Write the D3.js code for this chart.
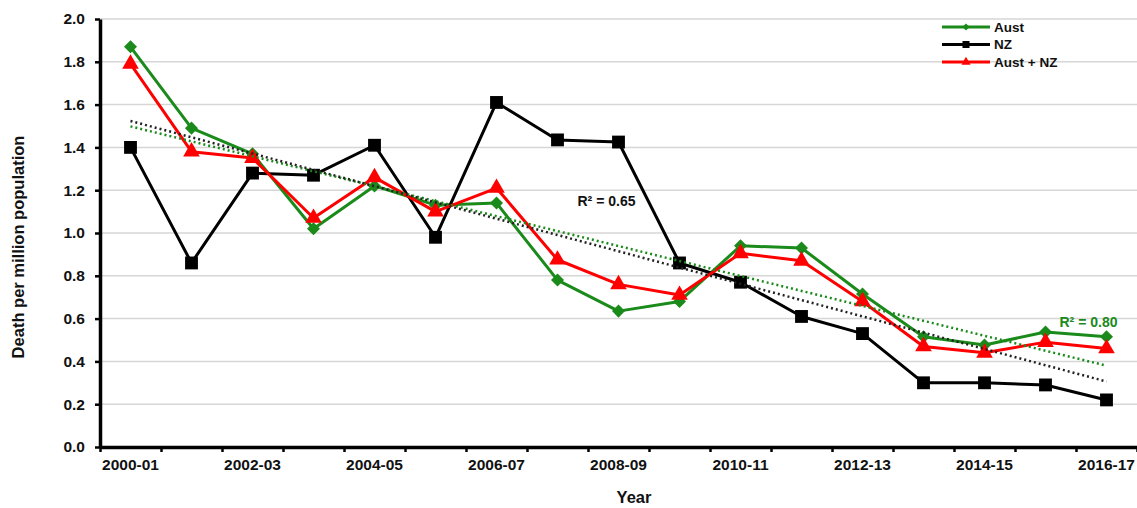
<!DOCTYPE html>
<html>
<head>
<meta charset="utf-8">
<script src="https://cdn.jsdelivr.net/npm/d3@7"></script>
<style>
  html, body { margin: 0; padding: 0; background: #fff; }
  svg { display: block; font-family: "Liberation Sans", Arial, sans-serif; }
  .tick text { font-weight: bold; font-size: 15.5px; fill: #111; }
</style>
</head>
<body>
<svg id="chart" width="1137" height="508"></svg>
<script>
/* ── Data ─────────────────────────────────────────────────────── */
const years = ["2000-01","2001-02","2002-03","2003-04","2004-05","2005-06","2006-07","2007-08","2008-09",
               "2009-10","2010-11","2011-12","2012-13","2013-14","2014-15","2015-16","2016-17"];
const aust   = [1.87,1.49,1.37,1.02,1.22,1.13,1.14,0.78,0.635,0.68,0.94,0.93,0.715,0.515,0.477,0.537,0.515];
const nz     = [1.40,0.86,1.28,1.27,1.41,0.98,1.61,1.435,1.425,0.86,0.77,0.61,0.53,0.30,0.30,0.29,0.22];
const austNz = [1.79,1.38,1.35,1.07,1.26,1.10,1.21,0.875,0.76,0.71,0.905,0.87,0.68,0.47,0.44,0.49,0.46];
const yTicks = [0,0.2,0.4,0.6,0.8,1.0,1.2,1.4,1.6,1.8,2.0];
const r2Labels = [
  { text: "R² = 0.65", color: "#111", yr: "2008-09", val: 1.15, dx: -12 },
  { text: "R² = 0.80", color: "#1a8a1a", yr: "2016-17", val: 0.585, dx: -18 }
];

/* ── Setup ────────────────────────────────────────────────────── */
const svg = d3.select("#chart");
const L = 100, R = 1137, T = 19, B = 447;

const x = d3.scaleBand().domain(years).range([L, R]).padding(0);
const cx = d => x(d) + x.bandwidth() / 2;
const y = d3.scaleLinear().domain([0, 2]).range([B, T]);

// gridlines
svg.append("g").selectAll("line").data(yTicks.filter(t => t > 0)).join("line")
  .attr("x1", L).attr("x2", R)
  .attr("y1", d => y(d)).attr("y2", d => y(d))
  .attr("stroke", "#d6d6d6").attr("stroke-width", 1.5);

// x axis: tick marks on category boundaries, labels every other year
const xb = d3.scaleLinear().domain([0, years.length]).range([L, R]);
svg.append("g").attr("transform", `translate(0,${B})`)
  .call(d3.axisBottom(xb).tickValues(d3.range(years.length + 1)).tickFormat("").tickSize(5).tickSizeOuter(0))
  .call(g => g.selectAll(".tick line").attr("stroke", "#000").attr("stroke-width", 2.5))
  .call(g => g.select(".domain").attr("stroke", "#000").attr("stroke-width", 3.5));

svg.append("g").attr("transform", `translate(0,${B})`)
  .call(d3.axisBottom(x).tickSize(0).tickFormat((d, i) => i % 2 === 0 ? d : ""))
  .call(g => g.select(".domain").remove())
  .call(g => g.selectAll(".tick text").attr("dy", "1.3em"));

// y axis
svg.append("g").attr("transform", `translate(${L},0)`)
  .call(d3.axisLeft(y).tickValues(yTicks).tickFormat(d3.format(".1f")).tickSize(5).tickSizeOuter(0).tickPadding(10))
  .call(g => g.selectAll(".tick line").attr("stroke", "#000").attr("stroke-width", 2.5))
  .call(g => g.select(".domain").attr("stroke", "#000").attr("stroke-width", 3.5));

// axis titles
svg.append("text").attr("x", 634).attr("y", 503).attr("text-anchor", "middle")
  .attr("font-weight", "bold").attr("font-size", 16.5).attr("fill", "#111").text("Year");
svg.append("text").attr("transform", "translate(24,247) rotate(-90)").attr("text-anchor", "middle")
  .attr("font-weight", "bold").attr("font-size", 16.5).attr("fill", "#111").text("Death per million population");

/* ── Series ───────────────────────────────────────────────────── */
const diamond = { draw(ctx, size) { const r = Math.sqrt(size / 2); ctx.moveTo(0, -r); ctx.lineTo(r, 0); ctx.lineTo(0, r); ctx.lineTo(-r, 0); ctx.closePath(); } };
const series = [
  { name: "Aust", values: aust, color: "#1a8a1a", symbol: diamond, size: 85 },
  { name: "NZ", values: nz, color: "#000", symbol: d3.symbolSquare, size: 165 },
  { name: "Aust + NZ", values: austNz, color: "#ff0000", symbol: d3.symbolTriangle, size: 120 }
];

const line = d3.line().x((d, i) => cx(years[i])).y(d => y(d));

series.forEach(s => {
  const g = svg.append("g");
  g.append("path").datum(s.values).attr("d", line)
    .attr("fill", "none").attr("stroke", s.color).attr("stroke-width", 3).attr("stroke-linejoin", "round");
  g.selectAll("path.m").data(s.values).join("path").attr("class", "m")
    .attr("transform", (d, i) => `translate(${cx(years[i])},${y(d)})`)
    .attr("d", d3.symbol(s.symbol, s.size)).attr("fill", s.color);
});

/* ── Linear trendlines (least squares) ────────────────────────── */
function trend(vals) {
  const n = vals.length, mx = (n - 1) / 2, my = d3.mean(vals);
  let sxy = 0, sxx = 0;
  vals.forEach((v, i) => { sxy += (i - mx) * (v - my); sxx += (i - mx) * (i - mx); });
  const b = sxy / sxx, a = my - b * mx;
  return [a, a + b * (n - 1)];
}
[{ vals: aust, color: "#1a8a1a" }, { vals: nz, color: "#222" }].forEach(t => {
  const [y0, y1] = trend(t.vals);
  svg.append("line")
    .attr("x1", cx(years[0])).attr("y1", y(y0))
    .attr("x2", cx(years[years.length - 1])).attr("y2", y(y1))
    .attr("stroke", t.color).attr("stroke-width", 2.5).attr("stroke-dasharray", "2,3");
});

// R² labels
r2Labels.forEach(r => {
  svg.append("text").attr("x", cx(r.yr) + r.dx).attr("y", y(r.val)).attr("dy", "0.35em")
    .attr("text-anchor", "middle").attr("font-weight", "bold").attr("font-size", 14)
    .attr("fill", r.color).text(r.text);
});

/* ── Legend ───────────────────────────────────────────────────── */
const leg = svg.append("g");
series.forEach((s, i) => {
  const ly = 27 + i * 17.5;
  leg.append("line").attr("x1", 942).attr("x2", 990).attr("y1", ly).attr("y2", ly)
    .attr("stroke", s.color).attr("stroke-width", 3);
  leg.append("path").attr("transform", `translate(966,${ly})`)
    .attr("d", d3.symbol(s.symbol, s.size * 0.3)).attr("fill", s.color);
  leg.append("text").attr("x", 994).attr("y", ly).attr("dy", "0.35em")
    .attr("font-weight", "bold").attr("font-size", 13.5).attr("fill", "#111").text(s.name);
});
</script>
</body>
</html>
